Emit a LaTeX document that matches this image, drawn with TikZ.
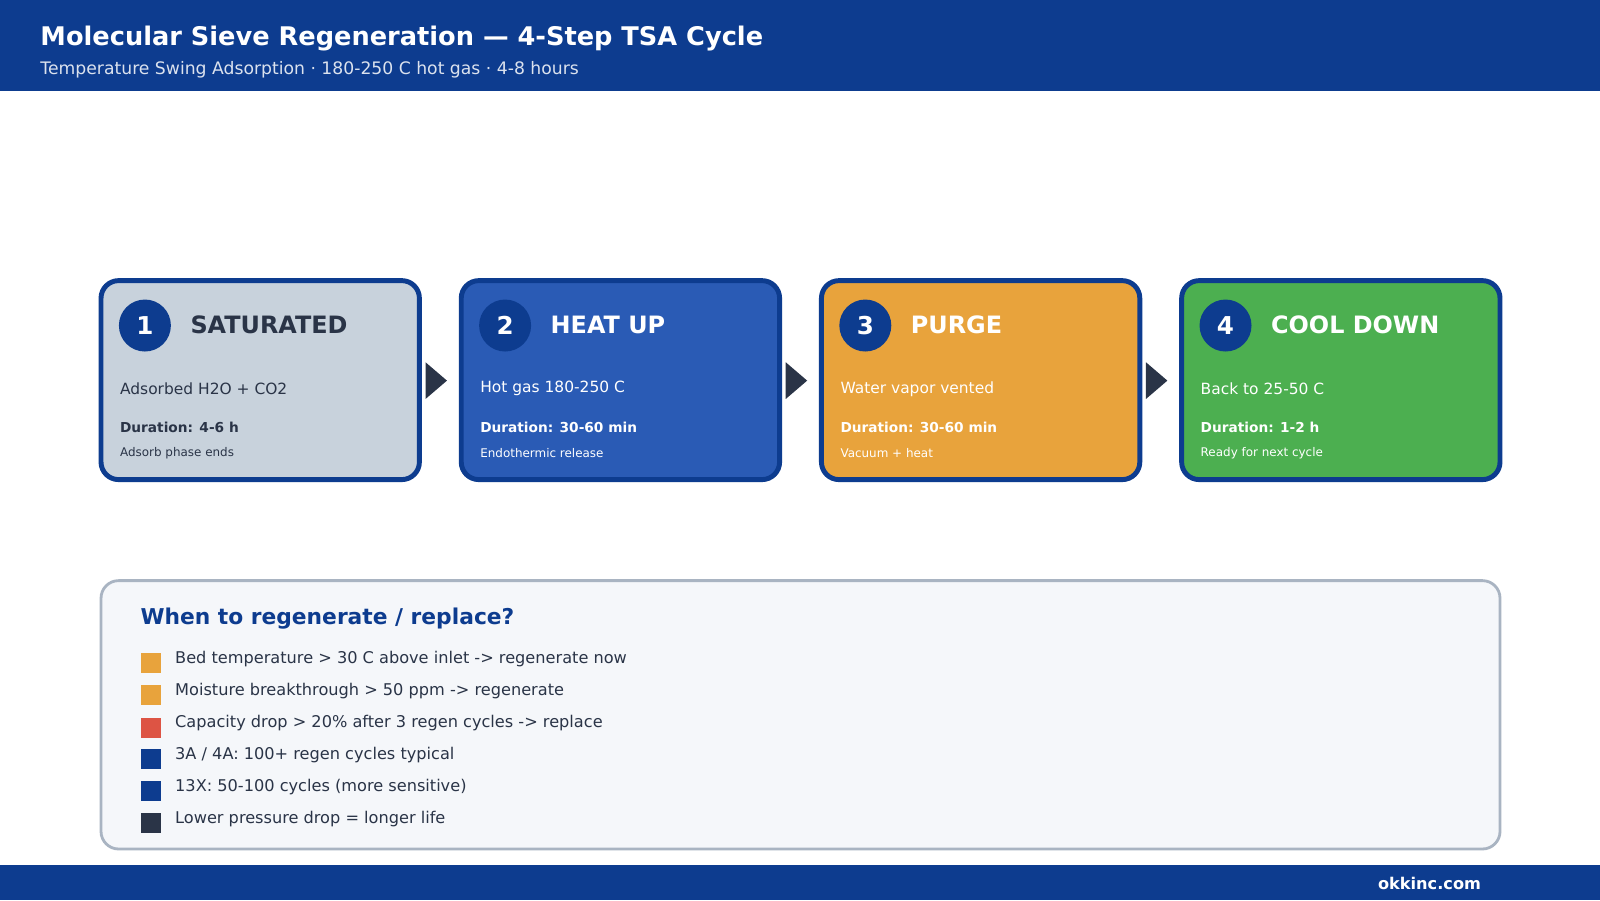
\documentclass[tikz,border=0pt]{standalone}
\usepackage{fontspec}
\setmainfont{DejaVu Sans}
\usetikzlibrary{positioning}
\definecolor{navy}{HTML}{0D3C8F}
\definecolor{ink}{HTML}{2A3447}
\definecolor{grey}{HTML}{C8D2DC}
\definecolor{blu}{HTML}{2A5BB5}
\definecolor{orng}{HTML}{E8A33C}
\definecolor{grn}{HTML}{4CAF50}
\definecolor{redd}{HTML}{DD5444}
\definecolor{pale}{HTML}{F5F7FA}
\definecolor{rim}{HTML}{A9B4C2}
\tikzset{
  stepbox/.style={draw=navy, line width=1.4pt, rounded corners=5pt},
  numdot/.style={circle, fill=navy, minimum size=0.52cm, inner sep=0pt, text=white, font=\fontsize{7}{8}\selectfont\bfseries},
  head/.style={anchor=west, inner sep=0pt, font=\fontsize{6.8}{8}\selectfont\bfseries},
  body/.style={anchor=west, inner sep=0pt, font=\fontsize{4.4}{5}\selectfont},
  dur/.style={anchor=west, inner sep=0pt, font=\fontsize{3.9}{5}\selectfont\bfseries},
  note/.style={anchor=west, inner sep=0pt, font=\fontsize{3.4}{4}\selectfont},
  item/.style={anchor=west, inner sep=0pt, text=ink, font=\fontsize{4.6}{5}\selectfont},
  chip/.style={minimum size=0.2cm, inner sep=0pt}
}
\begin{document}
\begin{tikzpicture}[x=0.010204cm, y=-0.010204cm]
\useasboundingbox (0,0) rectangle (1568,882);
\fill[white] (0,0) rectangle (1568,882);

% header and footer
\fill[navy] (0,0) rectangle (1568,89);
\node[anchor=west, inner sep=0pt, text=white, font=\fontsize{7.3}{9}\selectfont\bfseries] (title) at (39,38) {Molecular Sieve Regeneration — 4-Step TSA Cycle};
\node[anchor=west, inner sep=0pt, text=white!85!navy, font=\fontsize{4.9}{6}\selectfont] (sub) at (39,68) {Temperature Swing Adsorption · 180-250 C hot gas · 4-8 hours};
\fill[navy] (0,848) rectangle (1568,882);
\node[anchor=east, inner sep=0pt, text=white, font=\fontsize{4.6}{5}\selectfont\bfseries] (site) at (1452,866) {okkinc.com};

% steps
\foreach \i/\x/\col/\txt/\name/\line/\time/\extra in {
  1/99/grey/ink/SATURATED/Adsorbed H2O + CO2/4-6 h/Adsorb phase ends,
  2/452/blu/white/HEAT UP/Hot gas 180-250 C/30-60 min/Endothermic release,
  3/805/orng/white/PURGE/Water vapor vented/30-60 min/Vacuum + heat,
  4/1158/grn/white/COOL DOWN/Back to 25-50 C/1-2 h/Ready for next cycle}{
  \draw[stepbox, fill=\col] (\x,275) rectangle ++(312,195);
  \node[numdot] (n\i) at (\x+43,319) {\i};
  \node[head, text=\txt] (h\i) at (\x+87,318) {\name};
  \node[body, text=\txt] (b\i) at (\x+18,381) {\line};
  \node[dur, text=\txt] (d\i) at (\x+18,419) {Duration: \time};
  \node[note, text=\txt] (e\i) at (\x+18,444) {\extra};
}
\foreach \x in {417,770,1123}
  \fill[ink] (\x,355) -- (\x+21,373) -- (\x,391) -- cycle;

% legend
\draw[fill=pale, draw=rim, line width=0.8pt, rounded corners=5pt] (99,569) rectangle (1470,832);
\node[anchor=west, inner sep=0pt, text=navy, font=\fontsize{6.2}{7}\selectfont\bfseries] (lh) at (137,606) {When to regenerate / replace?};
\foreach \y/\col/\txt in {
  646/orng/{Bed temperature > 30 C above inlet -> regenerate now},
  677/orng/{Moisture breakthrough > 50 ppm -> regenerate},
  709/redd/{Capacity drop > 20\% after 3 regen cycles -> replace},
  740/navy/{3A / 4A: 100+ regen cycles typical},
  771/navy/{13X: 50-100 cycles (more sensitive)},
  803/ink/{Lower pressure drop = longer life}}{
  \node[chip, fill=\col] at (148,\y+4) {};
  \node[item] at (171,\y) {\txt};
}
\end{tikzpicture}
\end{document}
